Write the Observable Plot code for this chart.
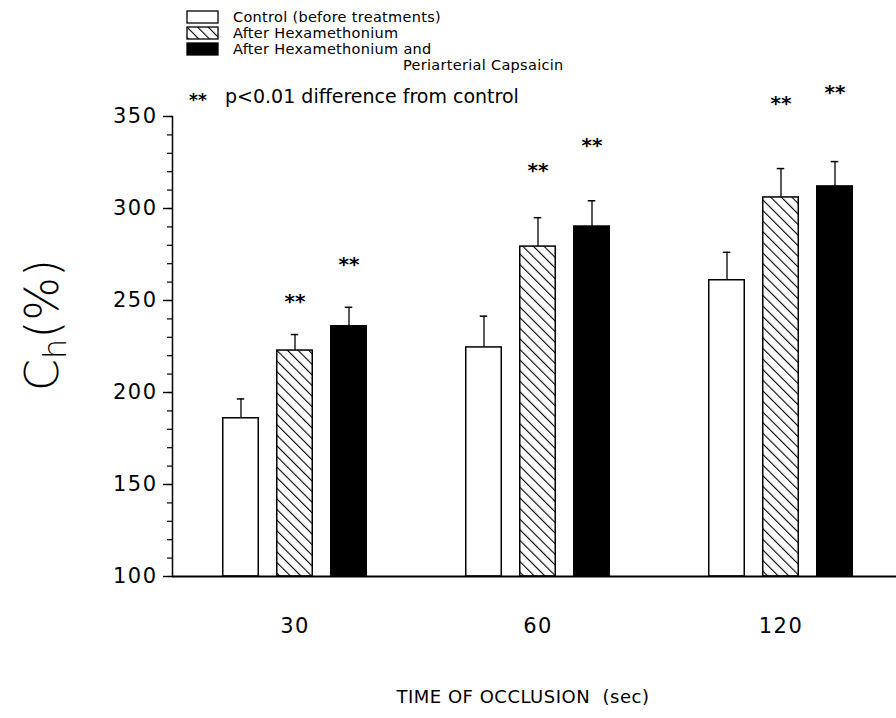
<!DOCTYPE html>
<html>
<head>
<meta charset="utf-8">
<script src="https://cdn.jsdelivr.net/npm/d3@7"></script>
<script src="https://cdn.jsdelivr.net/npm/@observablehq/plot@0.6"></script>
<style>
  html, body { margin: 0; padding: 0; background: #fff; }
  #chart svg { display: block; }
</style>
</head>
<body>
<div id="chart"></div>
<script>
// ---- data ----
const times = ["30", "60", "120"];
const seriesNames = [
  "Control (before treatments)",
  "After Hexamethonium",
  "After Hexamethonium and Periarterial Capsaicin"
];
const control = [186, 224.5, 261];
const controlSE = [10.5, 17, 15.2];
const hexa = [222.8, 279.3, 306];
const hexaSE = [8.7, 15.7, 15.7];
const hexaCap = [236, 290.2, 312];
const hexaCapSE = [10.3, 14, 13.5];
// y-position (in data units) of the "**" significance marks
const hexaStar = [250, 321, 357.5];
const hexaCapStar = [270, 335, 363.5];
const yMajorTicks = [100, 150, 200, 250, 300, 350];
const yMinorTicks = d3.range(100, 351, 10);
const yLabel = ["C", "h", "(%)"];
const xLabel = "TIME OF OCCLUSION  (sec)";
const sigNote = "p<0.01 difference from control";
const base = 100;

const rows = times.map((t, i) => ({
  time: t,
  control: control[i], controlSE: controlSE[i],
  hexa: hexa[i], hexaSE: hexaSE[i], hexaStar: hexaStar[i],
  hexaCap: hexaCap[i], hexaCapSE: hexaCapSE[i], hexaCapStar: hexaCapStar[i]
}));

// ---- layout ----
const W = 896, H = 718;
const xRange = [172.25, 902.75];
const bandW = (xRange[1] - xRange[0]) / times.length;
const barW = 36, capW = 8, step = 54;
const barInset = (bandW - barW) / 2;
const capInset = (bandW - capW) / 2;
const font = "'DejaVu Sans', sans-serif";

const series = [
  {key: "control", se: "controlSE", star: null, fill: "white", dx: -step},
  {key: "hexa", se: "hexaSE", star: "hexaStar", fill: "url(#hatch)", dx: 0},
  {key: "hexaCap", se: "hexaCapSE", star: "hexaCapStar", fill: "black", dx: step}
];

const marks = [];
for (const s of series) {
  marks.push(Plot.ruleX(rows, {
    x: "time", y1: s.key, y2: d => d[s.key] + d[s.se], dx: s.dx,
    stroke: "black", strokeWidth: 1.3
  }));
  marks.push(Plot.tickY(rows, {
    x: "time", y: d => d[s.key] + d[s.se], dx: s.dx,
    insetLeft: capInset, insetRight: capInset, stroke: "black", strokeWidth: 1.5
  }));
  marks.push(Plot.barY(rows, {
    x: "time", y1: () => base, y2: s.key, dx: s.dx,
    insetLeft: barInset, insetRight: barInset,
    fill: s.fill, stroke: "black", strokeWidth: 1.5
  }));
  if (s.star) {
    marks.push(Plot.text(rows, {
      x: "time", y: s.star, text: () => "**", dx: s.dx, dy: 1,
      fontSize: 20, fontWeight: "bold", fill: "black"
    }));
  }
}

const chart = Plot.plot({
  width: W,
  height: H,
  marginLeft: 172,
  marginRight: 0,
  marginTop: 116,
  marginBottom: 142,
  style: {fontFamily: font, background: "white", color: "black", overflow: "visible"},
  x: {type: "band", domain: times, range: xRange, padding: 0},
  y: {domain: [100, 350]},
  marks: [
    Plot.axisY({ticks: yMinorTicks, tickSize: 5, tickFormat: () => "", label: null, strokeWidth: 1.2}),
    Plot.axisY({ticks: yMajorTicks, tickSize: 9, tickPadding: 6, fontSize: 21, label: null, strokeWidth: 1.4}),
    Plot.axisX({tickSize: 0, tickPadding: 42, fontSize: 21, label: null}),
    Plot.frame({anchor: "left", stroke: "black", strokeWidth: 1.5}),
    ...marks,
    Plot.ruleY([base], {stroke: "black", strokeWidth: 2})
  ]
});

// hatch pattern for "After Hexamethonium"
const svg = d3.select(chart);
const defs = svg.insert("defs", ":first-child");
defs.append("pattern")
  .attr("id", "hatch")
  .attr("patternUnits", "userSpaceOnUse")
  .attr("width", 7.5).attr("height", 7.5)
  .attr("patternTransform", "rotate(-45)")
  .call(p => p.append("rect").attr("width", 7.5).attr("height", 7.5).attr("fill", "white"))
  .call(p => p.append("line").attr("x1", 0).attr("y1", 0).attr("x2", 0).attr("y2", 7.5)
    .attr("stroke", "black").attr("stroke-width", 2.2));

svg.selectAll("g[aria-label='y-axis tick label'] text, g[aria-label='x-axis tick label'] text")
  .attr("letter-spacing", 1.5);

// legend
const lg = svg.append("g").attr("font-family", font).attr("fill", "black")
  .attr("text-anchor", "start");
const swX = 187, swW = 31, swH = 12, rowY = [17, 33, 49];
const swFill = ["white", "url(#hatch)", "black"];
rowY.forEach((y, i) => {
  lg.append("rect").attr("x", swX).attr("y", y - swH / 2).attr("width", swW).attr("height", swH)
    .attr("fill", swFill[i]).attr("stroke", "black").attr("stroke-width", 1.3);
});
const legendText = [seriesNames[0], seriesNames[1], "After Hexamethonium and"];
legendText.forEach((t, i) => {
  lg.append("text").attr("x", 233).attr("y", rowY[i]).attr("dy", "0.35em")
    .attr("font-size", 14.5).attr("letter-spacing", 0.3).text(t);
});
lg.append("text").attr("x", 403).attr("y", 65).attr("dy", "0.35em")
  .attr("font-size", 14.5).attr("letter-spacing", 0.3).text("Periarterial Capsaicin");
lg.append("text").attr("x", 189).attr("y", 100).attr("dy", "0.35em")
  .attr("font-size", 17).attr("font-weight", "bold").text("**");
lg.append("text").attr("x", 225).attr("y", 96).attr("dy", "0.35em")
  .attr("font-size", 19).text(sigNote);

// axis titles
svg.append("text").attr("x", 523).attr("y", 697).attr("dy", "0.35em")
  .attr("text-anchor", "middle").attr("font-family", font).attr("font-size", 18)
  .attr("letter-spacing", 0.5).text(xLabel);

const yl = svg.append("text")
  .attr("transform", "translate(58,325) rotate(-90)")
  .attr("text-anchor", "middle").attr("font-family", font).attr("font-size", 46)
  .attr("font-weight", 300);
yl.append("tspan").text(yLabel[0]);
yl.append("tspan").attr("font-size", 32).attr("dy", 8).text(yLabel[1]);
yl.append("tspan").attr("dy", -8).text(yLabel[2]);

document.getElementById("chart").append(chart);
</script>
</body>
</html>
